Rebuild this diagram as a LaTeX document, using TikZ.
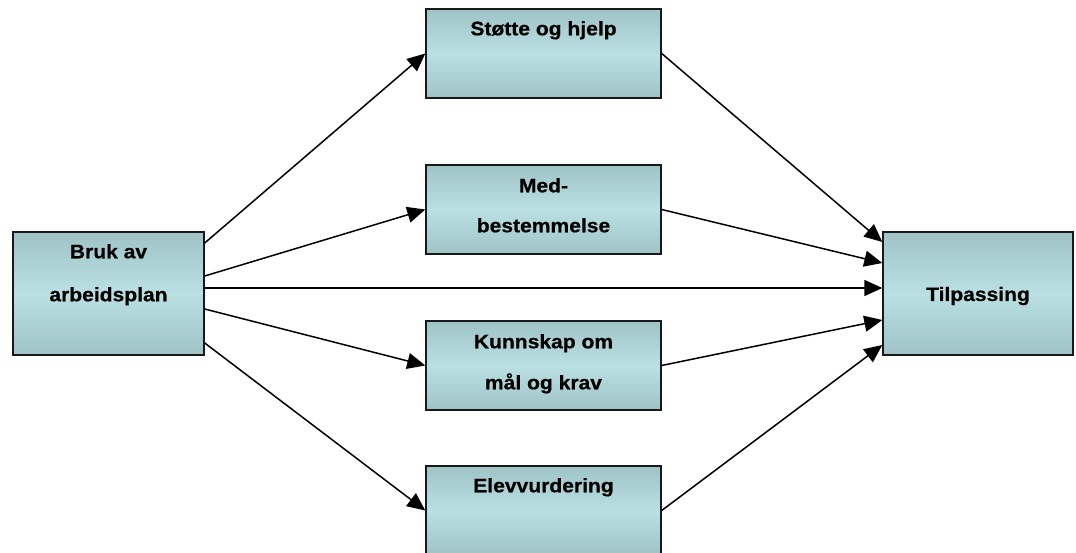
\documentclass[tikz,border=0pt]{standalone}
\usepackage{fontspec}
\newfontfamily\labfont[FakeStretch=1.08,FakeBold=0.6]{Liberation Sans}
\usetikzlibrary{arrows.meta}
\definecolor{boxedge}{HTML}{9FC3C5}
\definecolor{boxmid}{HTML}{BAE0E4}
\tikzset{
  box/.style={draw=black!90, line width=1.4pt, top color=boxedge, bottom color=boxedge, middle color=boxmid, inner sep=0pt},
  leftbox/.style={box, minimum width=191pt, minimum height=123pt},
  midbox/.style={box, minimum width=235pt, minimum height=89pt},
  lab/.style={font=\labfont\bfseries\fontsize{19.5}{19.5}\selectfont, inner sep=0pt, anchor=base, text=black},
  conn/.style={line width=1.5pt, -{Triangle[length=18pt 0,width=16pt 0]}}
}
\begin{document}
\begin{tikzpicture}[x=1pt,y=-1pt]
\useasboundingbox (0,0) rectangle (1076,553);
\clip (0,0) rectangle (1076,553);
\node[leftbox] (bruk) at (108.5,293.5) {};
\node[midbox] (stotte) at (543.5,53.5) {};
\node[midbox] (med) at (543.5,209.5) {};
\node[midbox] (kunn) at (543.5,365.5) {};
\node[midbox] (elev) at (543.5,510.5) {};
\node[leftbox, minimum width=190pt] (tilp) at (978,293.5) {};
% texts
\node[lab] (t1a) at ([yshift=-27pt]bruk.north) {Bruk av};
\node[lab] (t1b) at ([yshift=-70pt]bruk.north) {arbeidsplan};
\node[lab] (t2a) at ([yshift=-27pt]stotte.north) {Støtte og hjelp};
\node[lab] (t3a) at ([yshift=-28pt]med.north) {Med-};
\node[lab] (t3b) at ([yshift=-68pt]med.north) {bestemmelse};
\node[lab] (t4a) at ([yshift=-28pt]kunn.north) {Kunnskap om};
\node[lab] (t4b) at ([yshift=-69pt]kunn.north) {mål og krav};
\node[lab] (t5a) at ([yshift=-27pt]elev.north) {Elevvurdering};
\node[lab] (t6a) at ([yshift=-7.5pt]tilp.center) {Tilpassing};
% connectors
\draw[conn] ([yshift=50.5pt]bruk.east) -- (stotte.west);
\draw[conn] ([yshift=17.5pt]bruk.east) -- (med.west);
\draw[conn] ([yshift=5.5pt]bruk.east) -- ([yshift=5.5pt]tilp.west);
\draw[conn] ([yshift=-15.5pt]bruk.east) -- (kunn.west);
\draw[conn] ([yshift=-49.5pt]bruk.east) -- (elev.west);
\draw[conn] (stotte.east) -- ([yshift=51.5pt]tilp.west);
\draw[conn] (med.east) -- ([yshift=30.5pt]tilp.west);
\draw[conn] (kunn.east) -- ([yshift=-26.5pt]tilp.west);
\draw[conn] (elev.east) -- ([yshift=-51.5pt]tilp.west);
\end{tikzpicture}
\end{document}
